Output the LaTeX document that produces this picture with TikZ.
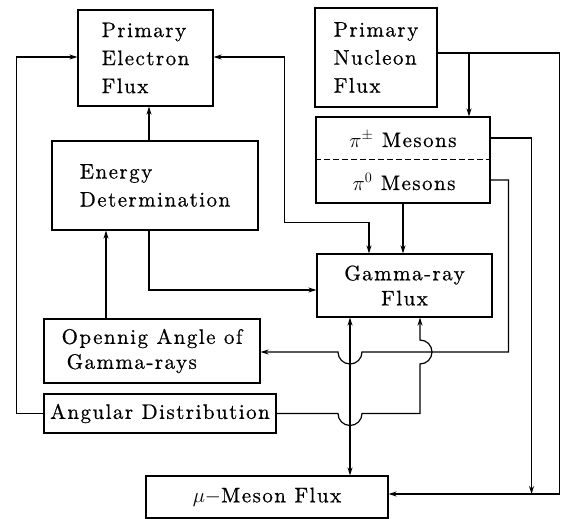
\documentclass[tikz,border=0pt]{standalone}
\usepackage{fontspec}
\newfontfamily\lmls{lmroman10-regular.otf}[LetterSpace=7,FakeBold=0.6]
\usetikzlibrary{arrows.meta,calc}
\tikzset{
  box/.style={draw, line width=1.1pt, inner sep=0pt, align=left,
    font=\lmls\fontsize{21}{28}\selectfont},
  txt/.style={inner sep=0pt, font=\lmls\fontsize{21}{28}\selectfont},
  ln/.style={line width=1.2pt},
  arr/.style={-{Stealth[length=8pt,width=5pt]}},
  darr/.style={{Stealth[length=8pt,width=5pt]}-{Stealth[length=8pt,width=5pt]}},
}
\begin{document}
\begin{tikzpicture}[x=1pt,y=-1pt]
\useasboundingbox (0,0) rectangle (562,519);
% boxes
\node[box, minimum width=135pt, minimum height=96pt] (elec) at (145.5,58) {Primary\\Electron\\Flux};
\node[box, minimum width=122pt, minimum height=99pt] (nucl) at (376,57.5) {Primary\\Nucleon\\Flux};
\node[box, minimum width=174pt, minimum height=86pt] (pi) at (403,160) {};
\node[txt, anchor=base] (pipm) at (403,147) {$\pi^{\pm}$ Mesons};
\node[txt, anchor=base] (pizero) at (404,190) {$\pi^{0}$ Mesons};
\draw[dashed, line width=1pt, dash pattern=on 6pt off 3pt] ([yshift=1pt]pi.west) -- ([yshift=1pt]pi.east);
\node[box, minimum width=206pt, minimum height=89pt] (energy) at (155,185.5) {Energy\\Determination};
\node[box, align=center, minimum width=175pt, minimum height=63pt,
  font=\lmls\fontsize{21}{25}\selectfont] (gamma) at (404.5,285.5) {Gamma-ray\\Flux};
\node[box, minimum width=216pt, minimum height=64pt,
  font=\lmls\fontsize{21}{25}\selectfont] (open) at (152,351) {Opennig Angle of\\\hspace*{5pt}Gamma-rays};
\node[box, minimum width=232pt, minimum height=39pt] (ang) at (160,413.5) {Angular Distribution};
\node[box, minimum width=242pt, minimum height=42pt] (mu) at (267,497) {$\mu-$Meson Flux};
% helper coordinates
\coordinate (vx) at (350,0);
\coordinate (gx) at (420,0);
\coordinate (hy) at (0,352);
\coordinate (muin) at ([yshift=3pt]mu.east);
\coordinate (g1) at ($(gamma.north)+(-35.5pt,0)$);
% connectors
\draw[ln,arr] ([xshift=3.5pt]elec.south |- energy.north) -- ([xshift=3.5pt]elec.south);
\draw[ln,arr] (ang.west) -- ++(-27pt,0) |- ([yshift=1pt]elec.west);
\draw[ln,arr] (ang.east) -- ($(vx |- ang.east)+(-12pt,0)$)
   arc[start angle=180,end angle=360,radius=12pt]
   -- (gx |- ang.east) -- ($(gx |- hy)+(0,-12pt)$)
   arc[start angle=-90,end angle=90,radius=12pt]
   -- (gx |- gamma.south);
\draw[ln,arr] ($(pi.east)+(0,-20pt)$) -- ++(18pt,0) coordinate (k1) -- (k1 |- hy)
   -- ($(vx |- hy)+(12pt,0)$)
   arc[start angle=0,end angle=-180,radius=12pt]
   -- (open.east |- hy);
\draw[line width=1.5pt,darr] (vx |- gamma.south) -- (vx |- mu.north);
\draw[ln,arr] ([xshift=-6pt]energy.south) |- ([yshift=-4.5pt]gamma.west);
\draw[ln,arr] ([xshift=-46pt]open.north) -- ([xshift=-46pt]open.north |- energy.south);
\draw[ln,darr] ([yshift=1pt]elec.east) -- ++(71pt,0) |- ($(g1)+(0,31pt)$) -- (g1);
\draw[ln,arr] ([yshift=4.5pt]nucl.east) -| ($(pi.north)+(66pt,0)$);
\draw[ln,arr] ([yshift=4.5pt]nucl.east) -- ++(122pt,0) |- (muin);
\draw[ln,arr] ($(pi.east)+(0,22pt)$) -- ++(41pt,0) coordinate (k2) -- (k2 |- muin);
\draw[ln,arr] (pi.south) -- (pi.south |- gamma.north);
\end{tikzpicture}
\end{document}
